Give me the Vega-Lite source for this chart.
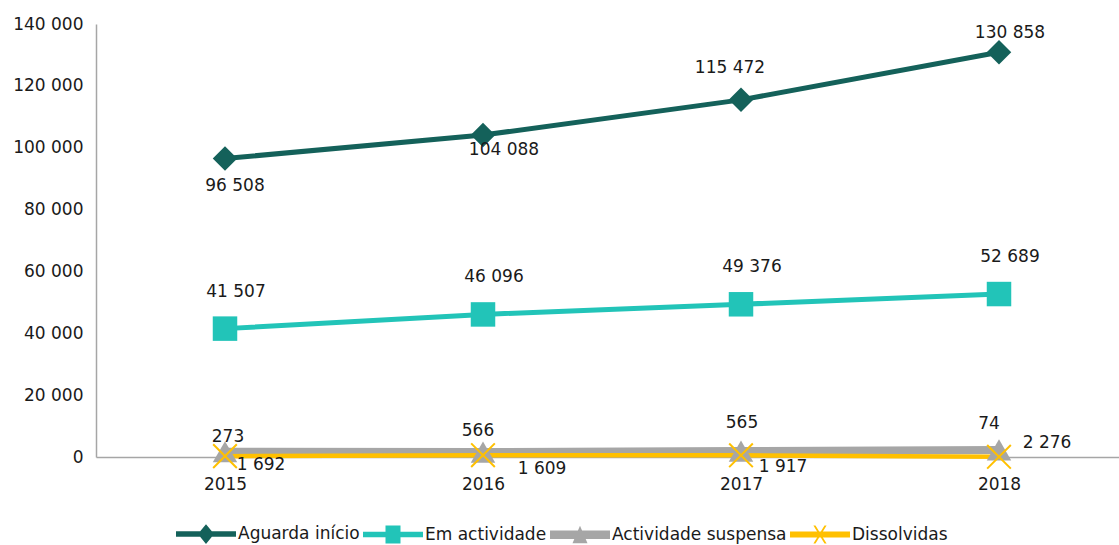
{
  "$schema": "https://vega.github.io/schema/vega-lite/v6.json",
  "width": 1032,
  "height": 433,
  "autosize": {"type": "none"},
  "padding": {"left": 96, "top": 24, "right": 0, "bottom": 88},
  "background": "#ffffff",
  "config": {
    "view": {"stroke": null},
    "locale": {"number": {"decimal": ",", "thousands": " ", "grouping": [3], "currency": ["", " €"]}},
    "font": "DejaVu Sans",
    "text": {"font": "DejaVu Sans", "fontSize": 17, "color": "#1a1a1a"}
  },
  "data": {
    "values": [
      {"year": "2015", "series": "Aguarda início", "value": 96508},
      {"year": "2016", "series": "Aguarda início", "value": 104088},
      {"year": "2017", "series": "Aguarda início", "value": 115472},
      {"year": "2018", "series": "Aguarda início", "value": 130858},
      {"year": "2015", "series": "Em actividade", "value": 41507},
      {"year": "2016", "series": "Em actividade", "value": 46096},
      {"year": "2017", "series": "Em actividade", "value": 49376},
      {"year": "2018", "series": "Em actividade", "value": 52689},
      {"year": "2015", "series": "Actividade suspensa", "value": 1692},
      {"year": "2016", "series": "Actividade suspensa", "value": 1609},
      {"year": "2017", "series": "Actividade suspensa", "value": 1917},
      {"year": "2018", "series": "Actividade suspensa", "value": 2276},
      {"year": "2015", "series": "Dissolvidas", "value": 273},
      {"year": "2016", "series": "Dissolvidas", "value": 566},
      {"year": "2017", "series": "Dissolvidas", "value": 565},
      {"year": "2018", "series": "Dissolvidas", "value": 74}
    ]
  },
  "encoding": {
    "x": {
      "field": "year", "type": "ordinal",
      "scale": {"type": "point", "padding": 0.5},
      "axis": {"title": null, "labelAngle": 0, "ticks": false, "domainColor": "#a6a6a6", "domainWidth": 1.5, "labelFontSize": 17, "labelFont": "DejaVu Sans", "labelColor": "#1a1a1a", "labelPadding": 19}
    },
    "y": {
      "field": "value", "type": "quantitative",
      "scale": {"domain": [0, 140000], "nice": false},
      "axis": {"title": null, "grid": false, "ticks": false, "values": [0, 20000, 40000, 60000, 80000, 100000, 120000, 140000], "format": ",d", "labelFontSize": 17, "labelFont": "DejaVu Sans", "labelColor": "#1a1a1a", "labelPadding": 13, "domainColor": "#a6a6a6", "domainWidth": 1.5}
    }
  },
  "layer": [
    {
      "transform": [{"filter": "datum.series === 'Aguarda início'"}],
      "mark": {"type": "line", "color": "#14615A", "strokeWidth": 5, "strokeJoin": "round"},
      "encoding": {}
    },
    {
      "transform": [{"filter": "datum.series === 'Em actividade'"}],
      "mark": {"type": "line", "color": "#22C4B8", "strokeWidth": 5, "strokeJoin": "round"},
      "encoding": {}
    },
    {
      "transform": [{"filter": "datum.series === 'Actividade suspensa'"}],
      "mark": {"type": "line", "color": "#A6A6A6", "strokeWidth": 8, "strokeJoin": "round"},
      "encoding": {}
    },
    {
      "transform": [{"filter": "datum.series === 'Dissolvidas'"}],
      "mark": {"type": "line", "color": "#FFC000", "strokeWidth": 4.5, "strokeJoin": "round"},
      "encoding": {}
    },
    {
      "transform": [{"filter": "datum.series !== 'Dissolvidas'"}],
      "mark": {"type": "point", "filled": true, "opacity": 1, "size": 600},
      "encoding": {
        "shape": {"field": "series", "type": "nominal", "scale": {"domain": ["Aguarda início", "Em actividade", "Actividade suspensa"], "range": ["diamond", "square", "triangle-up"]}, "legend": null},
        "color": {
          "field": "series", "type": "nominal",
          "scale": {"domain": ["Aguarda início", "Em actividade", "Actividade suspensa", "Dissolvidas"], "range": ["#14615A", "#22C4B8", "#A6A6A6", "#FFC000"]},
          "legend": {
            "title": null,
            "orient": "none",
            "legendX": 80,
            "legendY": 480,
            "direction": "horizontal",
            "symbolSize": 3600,
            "symbolStrokeWidth": 0,
            "symbolOpacity": 1,
            "labelFontSize": 17,
            "labelFont": "DejaVu Sans",
            "labelColor": "#1a1a1a",
            "labelLimit": 400,
            "labelOffset": 2,
            "columnPadding": 3,
            "encode": {
              "symbols": {
                "update": {
                  "shape": {"signal": "datum.value === 'Aguarda início' ? 'M-1,-0.09H1V0.09H-1Z M-0.27,0L0,-0.33L0.27,0L0,0.33Z' : datum.value === 'Em actividade' ? 'M-1,-0.09H1V0.09H-1Z M-0.25,-0.3H0.25V0.3H-0.25Z' : datum.value === 'Actividade suspensa' ? 'M-1,-0.14H1V0.14H-1Z M-0.25,0.28L0,-0.3L0.25,0.28Z' : 'M-1,-0.1H1V0.1H-1Z M-0.22,-0.3L-0.15,-0.3L0.22,0.3L0.15,0.3Z M0.15,-0.3L0.22,-0.3L-0.15,0.3L-0.22,0.3Z'"},
                  "strokeWidth": {"value": 0}
                }
              }
            }
          }
        }
      }
    },
    {
      "transform": [{"filter": "datum.series === 'Dissolvidas'"}],
      "mark": {"type": "point", "shape": "M-1,-1L1,1M-1,1L1,-1", "filled": false, "color": "#FFC000", "strokeWidth": 2, "size": 560, "opacity": 1}
    },
    {
      "transform": [{"filter": "datum.series === 'Em actividade'"}],
      "mark": {"type": "text", "dx": 11, "dy": -37},
      "encoding": {"text": {"field": "value", "type": "quantitative", "format": ",d"}}
    },
    {
      "transform": [{"filter": "datum.series === 'Aguarda início' && datum.year === '2015'"}],
      "mark": {"type": "text", "dx": 10, "dy": 27},
      "encoding": {"text": {"field": "value", "type": "quantitative", "format": ",d"}}
    },
    {
      "transform": [{"filter": "datum.series === 'Aguarda início' && datum.year === '2016'"}],
      "mark": {"type": "text", "dx": 21, "dy": 15},
      "encoding": {"text": {"field": "value", "type": "quantitative", "format": ",d"}}
    },
    {
      "transform": [{"filter": "datum.series === 'Aguarda início' && datum.year === '2017'"}],
      "mark": {"type": "text", "dx": -11, "dy": -32},
      "encoding": {"text": {"field": "value", "type": "quantitative", "format": ",d"}}
    },
    {
      "transform": [{"filter": "datum.series === 'Aguarda início' && datum.year === '2018'"}],
      "mark": {"type": "text", "dx": 11, "dy": -19},
      "encoding": {"text": {"field": "value", "type": "quantitative", "format": ",d"}}
    },
    {
      "transform": [{"filter": "datum.series === 'Dissolvidas' && datum.year === '2015'"}],
      "mark": {"type": "text", "dx": 3, "dy": -19},
      "encoding": {"text": {"field": "value", "type": "quantitative", "format": ",d"}}
    },
    {
      "transform": [{"filter": "datum.series === 'Dissolvidas' && datum.year === '2016'"}],
      "mark": {"type": "text", "dx": -5, "dy": -24},
      "encoding": {"text": {"field": "value", "type": "quantitative", "format": ",d"}}
    },
    {
      "transform": [{"filter": "datum.series === 'Dissolvidas' && datum.year === '2017'"}],
      "mark": {"type": "text", "dx": 1, "dy": -32},
      "encoding": {"text": {"field": "value", "type": "quantitative", "format": ",d"}}
    },
    {
      "transform": [{"filter": "datum.series === 'Dissolvidas' && datum.year === '2018'"}],
      "mark": {"type": "text", "dx": -10, "dy": -33},
      "encoding": {"text": {"field": "value", "type": "quantitative", "format": ",d"}}
    },
    {
      "transform": [{"filter": "datum.series === 'Actividade suspensa' && datum.year === '2015'"}],
      "mark": {"type": "text", "dx": 36, "dy": 13},
      "encoding": {"text": {"field": "value", "type": "quantitative", "format": ",d"}}
    },
    {
      "transform": [{"filter": "datum.series === 'Actividade suspensa' && datum.year === '2016'"}],
      "mark": {"type": "text", "dx": 59, "dy": 17},
      "encoding": {"text": {"field": "value", "type": "quantitative", "format": ",d"}}
    },
    {
      "transform": [{"filter": "datum.series === 'Actividade suspensa' && datum.year === '2017'"}],
      "mark": {"type": "text", "dx": 42, "dy": 16},
      "encoding": {"text": {"field": "value", "type": "quantitative", "format": ",d"}}
    },
    {
      "transform": [{"filter": "datum.series === 'Actividade suspensa' && datum.year === '2018'"}],
      "mark": {"type": "text", "dx": 48, "dy": -7},
      "encoding": {"text": {"field": "value", "type": "quantitative", "format": ",d"}}
    }
  ]
}
